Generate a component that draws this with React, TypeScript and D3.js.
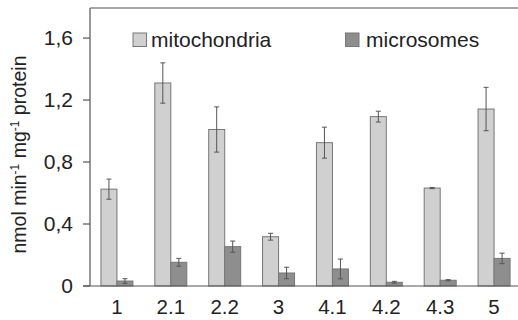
import React from "react";
import * as d3 from "d3";

const categories = ["1", "2.1", "2.2", "3", "4.1", "4.2", "4.3", "5"];
const mitoValues = [0.625, 1.31, 1.01, 0.318, 0.925, 1.093, 0.632, 1.142];
const mitoErrors = [0.065, 0.13, 0.146, 0.022, 0.1, 0.035, 0.004, 0.14];
const microValues = [0.032, 0.153, 0.254, 0.084, 0.11, 0.024, 0.037, 0.178];
const microErrors = [0.015, 0.025, 0.036, 0.037, 0.064, 0.006, 0.004, 0.034];
const yTicks = [0, 0.4, 0.8, 1.2, 1.6];
const seriesNames = ["mitochondria", "microsomes"];

const W = 518, H = 320;
const left = 90, right = 521, top = 8, bottom = 286;
const colors = ["#d0d0d0", "#8e8e8e"];
const font = "Arial, 'Liberation Sans', sans-serif";

export default function App() {
  const x = d3.scaleBand<string>().domain(categories).range([left, right]).paddingInner(0.4).paddingOuter(0.2);
  const y = d3.scaleLinear().domain([0, 1.794]).range([bottom, top]);
  const series = [
    { values: mitoValues, errors: mitoErrors },
    { values: microValues, errors: microErrors },
  ];
  const bw = 16;
  const fmt = (v: number) => (v === 0 ? "0" : d3.format(".1f")(v).replace(".", ","));
  return (
    <svg width={W} height={H} style={{ position: "absolute", left: 0, top: 0, background: "#fff" }} fontFamily={font}>
      <line x1={left} x2={W} y1={top} y2={top} stroke="#555" strokeWidth={1.2} />
      {categories.map((c, i) => {
        const cx = x(c)! + x.bandwidth() / 2;
        return series.map((s, j) => {
          const bx = cx - bw + j * bw;
          const v = s.values[i], e = s.errors[i];
          const ex = bx + bw / 2;
          return (
            <g key={c + j}>
              <rect x={bx} y={y(v)} width={bw} height={y(0) - y(v)} fill={colors[j]} stroke="#777" strokeWidth={1} />
              <line x1={ex} x2={ex} y1={y(v + e)} y2={y(Math.max(0, v - e))} stroke="#555" strokeWidth={1} />
              <line x1={ex - 2.5} x2={ex + 2.5} y1={y(v + e)} y2={y(v + e)} stroke="#555" strokeWidth={1} />
              <line x1={ex - 2.5} x2={ex + 2.5} y1={y(Math.max(0, v - e))} y2={y(Math.max(0, v - e))} stroke="#555" strokeWidth={1} />
            </g>
          );
        });
      })}
      <line x1={left} x2={left} y1={top} y2={bottom} stroke="#555" strokeWidth={1.2} />
      <line x1={83} x2={W} y1={bottom} y2={bottom} stroke="#555" strokeWidth={1.2} />
      {yTicks.map((t) => (
        <g key={t}>
          <line x1={83} x2={left} y1={y(t)} y2={y(t)} stroke="#555" strokeWidth={1.2} />
          <text x={73} y={y(t)} dy="0.35em" textAnchor="end" fontSize={21} fill="#222">{fmt(t)}</text>
        </g>
      ))}
      {categories.map((c) => (
        <text key={c} x={x(c)! + x.bandwidth() / 2} y={314} textAnchor="middle" fontSize={20.5} fill="#222">{c}</text>
      ))}
      <text transform={`translate(26,154.5) rotate(-90)`} textAnchor="middle" fontSize={19.5} fill="#222">
        nmol min<tspan dy={-7} fontSize={12}>-1</tspan><tspan dy={7}> mg</tspan><tspan dy={-7} fontSize={12}>-1</tspan><tspan dy={7}> protein</tspan>
      </text>
      {seriesNames.map((n, j) => {
        const lx = j === 0 ? 133 : 345.5;
        const tx = j === 0 ? 151 : 366;
        return (
          <g key={n}>
            <rect x={lx} y={33} width={13.5} height={13.5} fill={colors[j]} stroke="#777" />
            <text x={tx} y={47} fontSize={21} fill="#222">{n}</text>
          </g>
        );
      })}
    </svg>
  );
}
